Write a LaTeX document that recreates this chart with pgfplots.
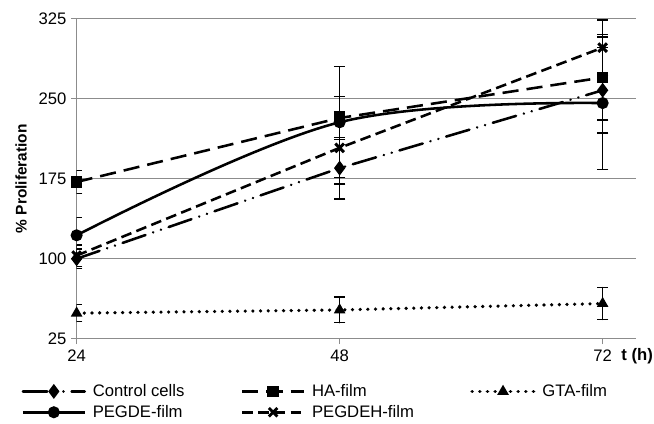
\documentclass[border=0pt]{standalone}
\usepackage{fontspec}
\setmainfont{Liberation Sans}
\usepackage{pgfplots}
\pgfplotsset{compat=1.18}

\pgfplotstableread{
t   y    e
24  100  9
48  185  29
72  258  40
}\control
\pgfplotstableread{
t   y    e
24  172  11
48  232  20
72  270  40
}\hafilm
\pgfplotstableread{
t   y    e
24  49   8
48  52   12
72  58   15
}\gtafilm
\pgfplotstableread{
t   y    e
24  122  17
48  228  52
72  246  62
}\pegde
\pgfplotstableread{
t   y    e
24  103  10
48  204  34
72  298  26
}\pegdeh

\begin{document}
\begin{tikzpicture}[x=0.75pt,y=0.75pt]
\begin{axis}[
    scale only axis,
    width=416pt, height=238pt,
    xmin=24, xmax=75.03,
    ymin=25, ymax=325,
    axis x line=bottom, axis y line=left,
    axis line style={-, draw=black!45, line width=0.9pt},
    xtick={24,48,72}, ytick={25,100,175,250,325},
    ymajorgrids, major grid style={black!45, line width=0.9pt},
    tick style={black!45, line width=0.9pt},
    tick align=outside, major tick length=4pt,
    tick label style={font=\fontsize{12.4}{14}\selectfont},
    /pgf/number format/assume math mode=true,
    xticklabel style={yshift=-1pt},
    ylabel={\bfseries \% Proliferation},
    ylabel style={font=\fontsize{11.5}{13}\selectfont, yshift=2pt},
    xlabel={\bfseries t (h)},
    xlabel style={at={(axis description cs:1.0,0)}, anchor=north, font=\fontsize{12.4}{14}\selectfont, yshift=-4pt, xshift=1pt},
    every axis plot/.append style={line width=1.9pt, black},
    error bars/y dir=both, error bars/y explicit,
    error bars/error bar style={line width=1pt, solid, black},
    error bars/error mark options={rotate=90, mark size=4.2pt, line width=1pt, solid},
    legend style={at={(axis description cs:-0.106,-0.125)}, anchor=north west,
        draw=none, fill=none, legend columns=3,
        font=\fontsize{12.4}{14}\selectfont,
        /tikz/every even column/.append style={column sep=40pt},
        /tikz/every odd column/.append style={column sep=3pt},
        row sep=1pt},
    legend cell align=left,
    legend image code/.code={\draw[mark repeat=2, mark phase=2] plot coordinates {(0pt,0pt) (23pt,0pt) (46pt,0pt)};},
]
\addplot[mark=diamond*, mark size=4pt, line cap=round,
    dash pattern=on 18pt off 6pt on 0.1pt off 6pt on 0.1pt off 6pt,
    mark options={solid}]
    table[x=t, y=y, y error=e] {\control};
\addlegendentry{Control cells}
\addplot[mark=square*, mark size=3.3pt,
    dash pattern=on 12pt off 6pt, mark options={solid}]
    table[x=t, y=y, y error=e] {\hafilm};
\addlegendentry{HA-film}
\addplot[mark=triangle*, mark size=4pt, line cap=round, line width=2.6pt,
    dash pattern=on 0.1pt off 5.6pt, mark options={solid, line width=1pt}]
    table[x=t, y=y, y error=e] {\gtafilm};
\addlegendentry{GTA-film}
\addplot[mark=*, mark size=3.5pt, smooth, tension=0.6]
    table[x=t, y=y, y error=e] {\pegde};
\addlegendentry{PEGDE-film}
\addplot[mark=x, mark size=4.5pt,
    dash pattern=on 8pt off 4pt, mark options={solid, line width=2.2pt}]
    table[x=t, y=y, y error=e] {\pegdeh};
\addlegendentry{PEGDEH-film}
\end{axis}
\pgfresetboundingbox
\path ([xshift=-57pt, yshift=-63pt]current axis.south west) rectangle ([xshift=13.5pt, yshift=14pt]current axis.north east);
\end{tikzpicture}
\end{document}
